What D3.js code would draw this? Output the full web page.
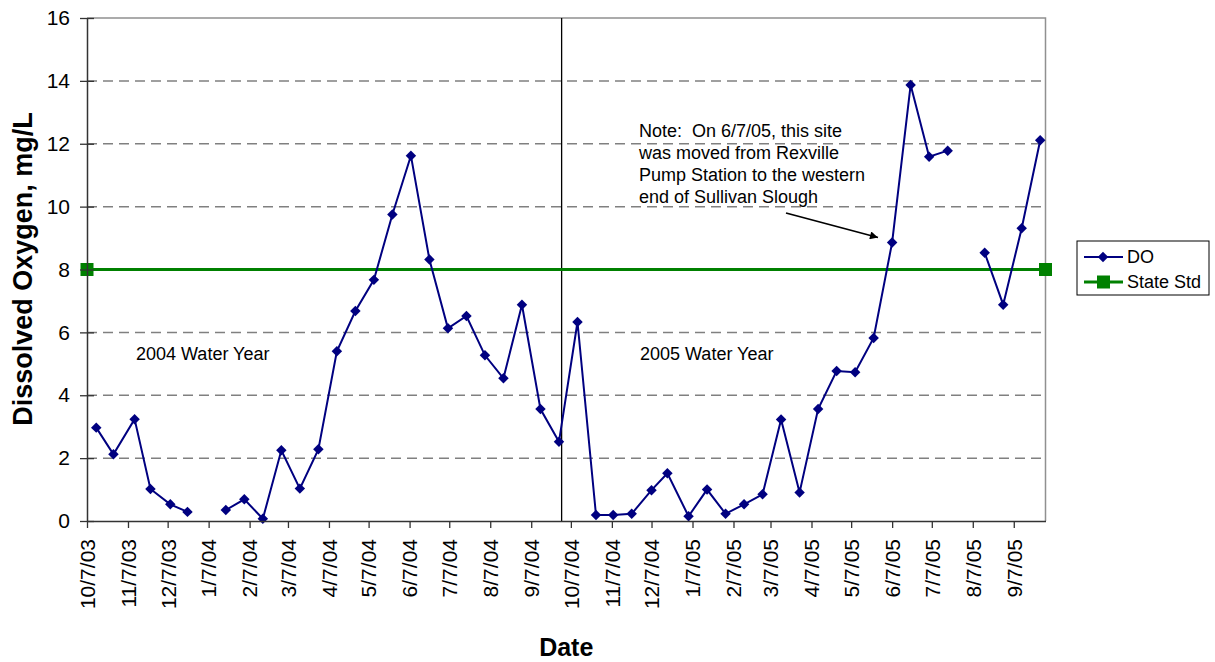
<!DOCTYPE html>
<html>
<head>
<meta charset="utf-8">
<script src="https://cdn.jsdelivr.net/npm/d3@7"></script>
<style>
  body { margin: 0; background: #fff; }
  svg { display: block; font-family: "Liberation Sans", Arial, sans-serif; }
  text { white-space: pre; }
</style>
</head>
<body>
<svg id="chart" width="1215" height="662"></svg>
<script>
// ---- data ----
const sampleDates = ["2003-10-14","2003-10-27","2003-11-12","2003-11-24","2003-12-09","2003-12-22","2004-01-06",
  "2004-01-20","2004-02-03","2004-02-17","2004-03-02","2004-03-16","2004-03-30","2004-04-13","2004-04-27",
  "2004-05-11","2004-05-25","2004-06-08","2004-06-22","2004-07-06","2004-07-20","2004-08-03","2004-08-17",
  "2004-08-31","2004-09-14","2004-09-28","2004-10-12","2004-10-26","2004-11-08","2004-11-22","2004-12-07",
  "2004-12-19","2005-01-04","2005-01-18","2005-02-01","2005-02-15","2005-03-01","2005-03-15","2005-03-29",
  "2005-04-12","2005-04-26","2005-05-10","2005-05-24","2005-06-07","2005-06-21","2005-07-05","2005-07-19",
  "2005-08-02","2005-08-16","2005-08-30","2005-09-13","2005-09-27"];
const doValues = [2.97,2.12,3.24,1.02,0.53,0.29,null,
  0.35,0.69,0.07,2.25,1.03,2.28,5.40,6.68,
  7.67,9.75,11.62,8.32,6.13,6.52,5.27,4.54,
  6.88,3.56,2.52,6.33,0.19,0.19,0.23,0.98,
  1.52,0.15,1.00,0.23,0.53,0.85,3.23,0.91,
  3.56,4.77,4.73,5.82,8.86,13.87,11.59,11.78,
  null,8.53,6.88,9.31,12.11];
const stateStd = 8;
const xDomain = ["2003-10-07","2005-10-01"];
const xTickDates = ["2003-10-07","2003-11-07","2003-12-07","2004-01-07","2004-02-07","2004-03-07","2004-04-07",
  "2004-05-07","2004-06-07","2004-07-07","2004-08-07","2004-09-07","2004-10-07","2004-11-07","2004-12-07",
  "2005-01-07","2005-02-07","2005-03-07","2005-04-07","2005-05-07","2005-06-07","2005-07-07","2005-08-07","2005-09-07"];
const yTicks = [0,2,4,6,8,10,12,14,16];
const waterYearBoundary = "2004-09-30";
const seriesNames = ["DO","State Std"];
const noteLines = ["Note:  On 6/7/05, this site","was moved from Rexville","Pump Station to the western","end of Sullivan Slough"];
const yearLabels = ["2004 Water Year","2005 Water Year"];

// ---- setup ----
const parse = d3.timeParse("%Y-%m-%d");
const svg = d3.select("#chart");
const L = 87, R = 1045.5, T = 18, B = 521;
const x = d3.scaleTime().domain(xDomain.map(parse)).range([L, R]);
const y = d3.scaleLinear().domain([0, 16]).range([B, T]);
const navy = "#000080", green = "#008000";

const data = sampleDates.map((d, i) => ({date: parse(d), v: doValues[i]}));

// gridlines
svg.append("g").selectAll("line").data(yTicks.filter(t => t > 0 && t < 16)).join("line")
  .attr("x1", L).attr("x2", R).attr("y1", d => y(d)).attr("y2", d => y(d))
  .attr("stroke", "#808080").attr("stroke-width", 1.5).attr("stroke-dasharray", "10,6");

// plot border (top & right)
svg.append("path").attr("d", `M${L},${T}H${R}V${B}`).attr("fill", "none")
  .attr("stroke", "#909090").attr("stroke-width", 1.5);

// water year boundary
const xb = x(parse(waterYearBoundary));
svg.append("line").attr("x1", xb).attr("x2", xb).attr("y1", T).attr("y2", B)
  .attr("stroke", "#000").attr("stroke-width", 1.3);

// state std line
svg.append("line").attr("x1", x.range()[0]).attr("x2", x.range()[1])
  .attr("y1", y(stateStd)).attr("y2", y(stateStd))
  .attr("stroke", green).attr("stroke-width", 3);
svg.append("g").selectAll("rect").data(x.domain()).join("rect")
  .attr("x", d => x(d) - 6.5).attr("y", y(stateStd) - 6.5).attr("width", 13).attr("height", 13)
  .attr("fill", green);

// DO line
const line = d3.line().defined(d => d.v != null).x(d => x(d.date)).y(d => y(d.v));
svg.append("path").datum(data).attr("d", line).attr("fill", "none")
  .attr("stroke", navy).attr("stroke-width", 2);
const diamond = d3.symbol().type(d3.symbolDiamond2).size(70);
svg.append("g").selectAll("path").data(data.filter(d => d.v != null)).join("path")
  .attr("transform", d => `translate(${x(d.date)},${y(d.v)})`)
  .attr("d", diamond).attr("fill", navy);

// axes
const yAxis = svg.append("g").attr("transform", `translate(${L},0)`)
  .call(d3.axisLeft(y).tickValues(yTicks).tickSize(7).tickSizeOuter(0).tickPadding(10));
yAxis.select(".domain").attr("stroke", "#333").attr("stroke-width", 1.5);
yAxis.selectAll(".tick line").attr("x1", 7).attr("stroke", "#333").attr("stroke-width", 1.3);
yAxis.selectAll("text").attr("font-size", 21).attr("font-family", "Liberation Sans, Arial, sans-serif").attr("fill", "#000");

const fmt = d => (d.getMonth() + 1) + "/" + d.getDate() + "/" + d3.timeFormat("%y")(d);
const xAxis = svg.append("g").attr("transform", `translate(0,${B})`)
  .call(d3.axisBottom(x).tickValues(xTickDates.map(parse)).tickSize(7).tickSizeOuter(0).tickFormat(fmt));
xAxis.select(".domain").attr("stroke", "#333").attr("stroke-width", 1.5);
xAxis.selectAll(".tick line").attr("stroke", "#333").attr("stroke-width", 1.3);
xAxis.selectAll("text").attr("font-size", 21).attr("font-family", "Liberation Sans, Arial, sans-serif").attr("fill", "#000")
  .attr("transform", "rotate(-90)").attr("text-anchor", "end")
  .attr("x", -18).attr("y", 0).attr("dy", "0.35em");

// axis titles
svg.append("text").attr("transform", `translate(32,269) rotate(-90)`).attr("text-anchor", "middle")
  .attr("font-size", 27).attr("font-weight", "bold").text("Dissolved Oxygen, mg/L");
svg.append("text").attr("x", (L + R) / 2).attr("y", 656).attr("text-anchor", "middle")
  .attr("font-size", 25).attr("font-weight", "bold").text("Date");

// annotations
svg.append("text").attr("x", 136).attr("y", 360).attr("font-size", 18).text(yearLabels[0]);
svg.append("text").attr("x", 640).attr("y", 360).attr("font-size", 18).text(yearLabels[1]);
svg.append("g").selectAll("text").data(noteLines).join("text")
  .attr("x", 639).attr("y", (d, i) => 137 + i * 22).attr("font-size", 18).text(d => d);

svg.append("defs").append("marker").attr("id", "arr").attr("viewBox", "0 0 10 10")
  .attr("refX", 10).attr("refY", 5).attr("markerWidth", 10).attr("markerHeight", 8)
  .attr("markerUnits", "userSpaceOnUse").attr("orient", "auto")
  .append("path").attr("d", "M0,0L10,5L0,10Z").attr("fill", "#000");
svg.append("line").attr("x1", 786).attr("y1", 213).attr("x2", 878).attr("y2", 237.5)
  .attr("stroke", "#000").attr("stroke-width", 1.8).attr("marker-end", "url(#arr)");

// legend
const lg = svg.append("g").attr("transform", "translate(1077,241)");
lg.append("rect").attr("width", 132).attr("height", 54).attr("fill", "#fff").attr("stroke", "#000").attr("stroke-width", 1);
const rows = lg.selectAll("g").data(seriesNames).join("g").attr("transform", (d, i) => `translate(0,${16 + i * 25})`);
rows.append("line").attr("x1", 7).attr("x2", 46).attr("stroke", (d, i) => i ? green : navy).attr("stroke-width", (d, i) => i ? 3 : 2);
rows.filter((d, i) => i === 0).append("path").attr("transform", "translate(26,0)").attr("d", diamond).attr("fill", navy);
rows.filter((d, i) => i === 1).append("rect").attr("x", 20).attr("y", -6.5).attr("width", 13).attr("height", 13).attr("fill", green);
rows.append("text").attr("x", 50).attr("dy", "0.35em").attr("font-size", 18).text(d => d);
</script>
</body>
</html>
